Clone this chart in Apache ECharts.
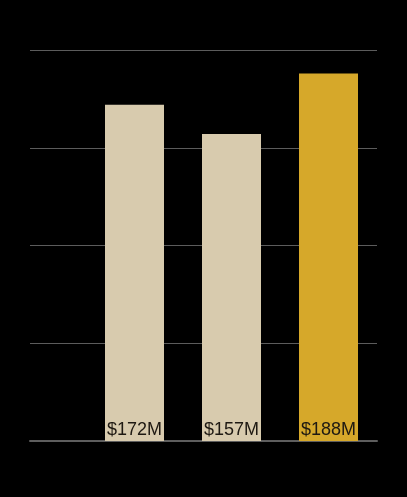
<!DOCTYPE html>
<html><head><meta charset="utf-8">
<style>html,body{margin:0;padding:0;background:#000;}#c{width:407px;height:497px;}</style>
<script src="https://cdn.jsdelivr.net/npm/echarts@6/dist/echarts.min.js"></script>
</head><body><div id="c"></div>
<script>
const categories = ['A', 'B', 'C'];
const values = [172, 157, 188];
const labels = ['$172M', '$157M', '$188M'];
const barColors = ['#d8cbae', '#d8cbae', '#d6a82a'];
const yTicks = [0, 50, 100, 150, 200];

const chart = echarts.init(document.getElementById('c'));
chart.setOption({
  backgroundColor: '#000',
  animation: false,
  grid: [
    {left: 86, right: 30, top: 50, bottom: 56},
    {left: 30, right: 30, top: 50, bottom: 56}
  ],
  xAxis: [
    {type: 'category', gridIndex: 0, data: categories, show: false},
    {type: 'value', gridIndex: 1, min: 0, max: 1, show: true,
     axisLabel: {show: false}, axisTick: {show: false}, splitLine: {show: false},
     axisLine: {show: true, lineStyle: {color: '#5e5e5e', width: 2}}}
  ],
  yAxis: [
    {type: 'value', gridIndex: 0, min: yTicks[0], max: yTicks[yTicks.length-1], interval: 50, show: false},
    {type: 'value', gridIndex: 1, min: yTicks[0], max: yTicks[yTicks.length-1], interval: 50,
     axisLabel: {show: false}, axisLine: {show: false}, axisTick: {show: false},
     splitLine: {show: true, lineStyle: {color: '#5c5c5c', width: 1}}}
  ],
  series: [{
    type: 'bar', xAxisIndex: 0, yAxisIndex: 0, z: 3,
    barWidth: 59,
    data: values.map((v, i) => ({value: v, itemStyle: {color: barColors[i]}})),
    label: {
      show: true, position: 'insideBottom', distance: 2,
      formatter: p => labels[p.dataIndex],
      color: '#1e1912', fontSize: 18, fontFamily: 'Liberation Sans, Arial, sans-serif'
    }
  }]
});
</script></body></html>
